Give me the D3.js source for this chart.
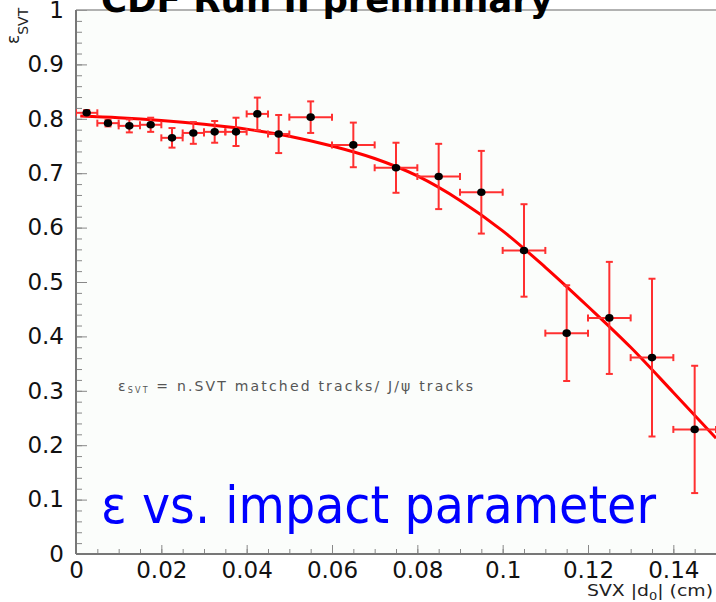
<!DOCTYPE html>
<html>
<head>
<meta charset="utf-8">
<script src="https://d3js.org/d3.v7.min.js"></script>
<style>
body, html {
  margin: 0;
  padding: 0;
  background: #fff;
}
svg text {
  font-family: "DejaVu Sans", sans-serif;
}
</style>
</head>
<body>
<div id="chart"></div>
<script>

// measured points: |d0| bin centres, bin half widths, efficiency and its error
var binCenters = [0.0025, 0.0075, 0.0125, 0.0175, 0.0225, 0.0275, 0.0325, 0.0375, 0.0425, 0.0475,
                  0.055, 0.065, 0.075, 0.085, 0.095, 0.105, 0.115, 0.125, 0.135, 0.145];
var binHalfWidths = [0.0025, 0.0025, 0.0025, 0.0025, 0.0025, 0.0025, 0.0025, 0.0025, 0.0025, 0.0025,
                     0.005, 0.005, 0.005, 0.005, 0.005, 0.005, 0.005, 0.005, 0.005, 0.005];
var effValues = [0.811, 0.792, 0.787, 0.789, 0.765, 0.774, 0.776, 0.776, 0.809, 0.772,
                 0.803, 0.752, 0.710, 0.694, 0.665, 0.558, 0.406, 0.434, 0.361, 0.229];
var effErrors = [0.005, 0.006, 0.012, 0.013, 0.018, 0.020, 0.020, 0.026, 0.030, 0.035,
                 0.029, 0.041, 0.046, 0.060, 0.076, 0.085, 0.088, 0.103, 0.145, 0.117];

// fitted curve
var fitX = [0.001, 0.01, 0.02, 0.03, 0.04, 0.05, 0.06, 0.07, 0.08, 0.09, 0.10, 0.11, 0.12, 0.13, 0.14, 0.15];
var fitY = [0.805, 0.802, 0.797, 0.790, 0.781, 0.768, 0.750, 0.727, 0.695, 0.650, 0.594, 0.527, 0.455, 0.380, 0.297, 0.213];

// axis ticks
var xTicks = [0, 0.02, 0.04, 0.06, 0.08, 0.1, 0.12, 0.14];
var xTickLabels = ["0", "0.02", "0.04", "0.06", "0.08", "0.1", "0.12", "0.14"];
var yTicks = [0, 0.1, 0.2, 0.3, 0.4, 0.5, 0.6, 0.7, 0.8, 0.9, 1];
var yTickLabels = ["0", "0.1", "0.2", "0.3", "0.4", "0.5", "0.6", "0.7", "0.8", "0.9", "1"];

var width = 716,
    height = 602,
    padLeft = 76,
    padTop = 10,
    padBottom = 554,
    padRight = 716;

var svg = d3.select('#chart').append('svg')
  .attr('width', width)
  .attr('height', height);

var x = d3.scaleLinear().domain([0, 0.15]).range([padLeft, padRight]);
var y = d3.scaleLinear().domain([0, 1]).range([padBottom, padTop]);

// plot area
svg.append('rect')
  .attr('x', padLeft).attr('y', padTop)
  .attr('width', padRight - padLeft).attr('height', padBottom - padTop)
  .attr('fill', '#fbfdfb');

svg.append('clipPath').attr('id', 'plotclip')
  .append('rect')
  .attr('x', padLeft).attr('y', padTop)
  .attr('width', padRight - padLeft).attr('height', padBottom - padTop);

// minor ticks
var xMinor = d3.range(0, 0.1501, 0.005);
var yMinor = d3.range(0, 1.001, 0.02);

svg.append('g')
  .attr('transform', 'translate(0,' + padBottom + ')')
  .call(d3.axisBottom(x).tickValues(xMinor).tickFormat('').tickSizeInner(-5).tickSizeOuter(0))
  .call(g => g.select('.domain').remove())
  .selectAll('line').attr('stroke', '#888');

svg.append('g')
  .attr('transform', 'translate(' + padLeft + ',0)')
  .call(d3.axisLeft(y).tickValues(yMinor).tickFormat('').tickSizeInner(-6).tickSizeOuter(0))
  .call(g => g.select('.domain').remove())
  .selectAll('line').attr('stroke', '#888');

// major ticks + labels
var xAxis = svg.append('g')
  .attr('transform', 'translate(0,' + padBottom + ')')
  .call(d3.axisBottom(x).tickValues(xTicks)
    .tickFormat((d, i) => xTickLabels[i])
    .tickSizeInner(-9).tickSizeOuter(0).tickPadding(8));
xAxis.select('.domain').remove();
xAxis.selectAll('line').attr('stroke', '#888');
xAxis.selectAll('text').attr('font-size', 23).attr('fill', '#111')
  .attr('font-family', '"DejaVu Sans", sans-serif');

var yAxis = svg.append('g')
  .attr('transform', 'translate(' + padLeft + ',0)')
  .call(d3.axisLeft(y).tickValues(yTicks)
    .tickFormat((d, i) => yTickLabels[i])
    .tickSizeInner(-11).tickSizeOuter(0).tickPadding(12));
yAxis.select('.domain').remove();
yAxis.selectAll('line').attr('stroke', '#888');
yAxis.selectAll('text').attr('font-size', 23).attr('fill', '#111')
  .attr('font-family', '"DejaVu Sans", sans-serif');

// frame
svg.append('line')
  .attr('x1', padLeft).attr('x2', padRight).attr('y1', padTop).attr('y2', padTop)
  .attr('stroke', '#999').attr('stroke-width', 1.5);
svg.append('line')
  .attr('x1', padLeft).attr('x2', padRight).attr('y1', padBottom).attr('y2', padBottom)
  .attr('stroke', '#777').attr('stroke-width', 2);
svg.append('line')
  .attr('x1', padLeft).attr('x2', padLeft).attr('y1', padTop).attr('y2', padBottom)
  .attr('stroke', '#777').attr('stroke-width', 2);

var plot = svg.append('g').attr('clip-path', 'url(#plotclip)');

// fit curve
var fitLine = d3.line()
  .x((d, i) => x(fitX[i]))
  .y(d => y(d))
  .curve(d3.curveMonotoneX);

plot.append('path')
  .datum(fitY)
  .attr('d', fitLine)
  .attr('fill', 'none')
  .attr('stroke', '#ff0000')
  .attr('stroke-width', 3);

// error bars
var errColor = '#ff3030';
var cap = 3.5;
var pts = plot.selectAll('g.pt')
  .data(binCenters)
  .enter().append('g').attr('class', 'pt');

pts.append('line')
  .attr('x1', (d, i) => x(d - binHalfWidths[i]))
  .attr('x2', (d, i) => x(d + binHalfWidths[i]))
  .attr('y1', (d, i) => y(effValues[i]))
  .attr('y2', (d, i) => y(effValues[i]));
pts.append('line')
  .attr('x1', d => x(d)).attr('x2', d => x(d))
  .attr('y1', (d, i) => y(effValues[i] + effErrors[i]))
  .attr('y2', (d, i) => y(effValues[i] - effErrors[i]));
// caps
[-1, 1].forEach(function (s) {
  pts.append('line')
    .attr('x1', (d, i) => x(d + s * binHalfWidths[i]))
    .attr('x2', (d, i) => x(d + s * binHalfWidths[i]))
    .attr('y1', (d, i) => y(effValues[i]) - cap)
    .attr('y2', (d, i) => y(effValues[i]) + cap);
  pts.append('line')
    .attr('x1', d => x(d) - cap)
    .attr('x2', d => x(d) + cap)
    .attr('y1', (d, i) => y(effValues[i] + s * effErrors[i]))
    .attr('y2', (d, i) => y(effValues[i] + s * effErrors[i]));
});
pts.selectAll('line')
  .attr('stroke', errColor)
  .attr('stroke-width', 2);

pts.append('ellipse')
  .attr('cx', d => x(d))
  .attr('cy', (d, i) => y(effValues[i]))
  .attr('rx', 4.2).attr('ry', 3.8)
  .attr('fill', '#000');

// y title: epsilon_SVT
var yTitle = svg.append('text')
  .attr('transform', 'translate(19,44) rotate(-90)')
  .attr('font-size', 17)
  .attr('fill', '#222');
yTitle.append('tspan').text('ε');
yTitle.append('tspan').attr('dy', 9).attr('font-size', 14).text('SVT');

// x title
var xTitle = svg.append('text')
  .attr('x', 713).attr('y', 596)
  .attr('text-anchor', 'end')
  .attr('font-size', 16)
  .attr('fill', '#222')
  .attr('textLength', 126)
  .attr('lengthAdjust', 'spacingAndGlyphs');
xTitle.append('tspan').text('SVX |d');
xTitle.append('tspan').attr('dy', 4).attr('font-size', 11).text('0');
xTitle.append('tspan').attr('dy', -4).text('| (cm)');

// annotation
var note = svg.append('text')
  .attr('x', 118).attr('y', 391)
  .attr('font-size', 14)
  .attr('fill', '#555')
  .attr('textLength', 355)
  .attr('lengthAdjust', 'spacing');
note.append('tspan').text('ε');
note.append('tspan').attr('dy', 2).attr('font-size', 8).text('SVT');
note.append('tspan').attr('dy', -2).text(' = n.SVT matched tracks/ J/ψ tracks');

// slide title, cut off at the top
svg.append('text')
  .attr('x', 101).attr('y', 12)
  .attr('font-size', 36)
  .attr('font-weight', 'bold')
  .attr('fill', '#000')
  .attr('textLength', 452)
  .attr('lengthAdjust', 'spacingAndGlyphs')
  .text('CDF Run II preliminary');

// big blue caption
svg.append('text')
  .attr('x', 101).attr('y', 523)
  .attr('font-size', 52)
  .attr('fill', '#0000ff')
  .attr('textLength', 555)
  .attr('lengthAdjust', 'spacingAndGlyphs')
  .text('ε vs. impact parameter');

</script>
</body>
</html>
